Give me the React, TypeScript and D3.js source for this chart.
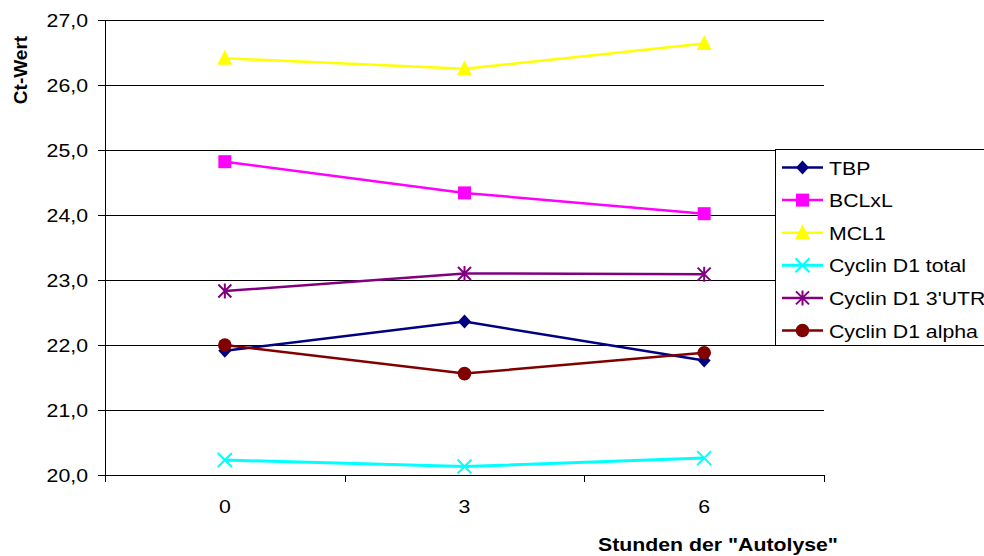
import React from "react";
import * as d3 from "d3";

// Hours of autolysis on the x axis
const hours = ["0", "3", "6"];

// Ct values per gene
const tbp = [21.91, 22.36, 21.76];
const bclxl = [24.82, 24.34, 24.02];
const mcl1 = [26.41, 26.25, 26.64];
const cyclinTotal = [20.23, 20.13, 20.26];
const cyclinUtr = [22.83, 23.1, 23.09];
const cyclinAlpha = [22.0, 21.56, 21.88];

const yTicks = [20, 21, 22, 23, 24, 25, 26, 27];

const seriesNames = [
  "TBP",
  "BCLxL",
  "MCL1",
  "Cyclin D1 total",
  "Cyclin D1 3'UTR",
  "Cyclin D1 alpha",
];
const seriesValues = [tbp, bclxl, mcl1, cyclinTotal, cyclinUtr, cyclinAlpha];
const seriesColors = ["#000080", "#FF00FF", "#FFFF00", "#00FFFF", "#800080", "#800000"];
const seriesMarkers = ["diamond", "square", "triangle", "x", "asterisk", "circle"];

const W = 984;
const H = 556;
const plot = { left: 105, right: 824, top: 20, bottom: 475 };
const FONT = "'Liberation Sans', Arial, Helvetica, sans-serif";
const SX = 1.15; // horizontal text stretch

function markerPath(kind: string): string {
  switch (kind) {
    case "diamond":
      return "M0,-7L6.5,0L0,7L-6.5,0Z";
    case "square":
      return "M-6.5,-6.5H6.5V6.5H-6.5Z";
    case "triangle":
      return "M0,-8.5L7.5,6.5H-7.5Z";
    case "x":
      return "M-7,-7L7,7M-7,7L7,-7";
    case "asterisk":
      return "M-6.5,-6.5L6.5,6.5M-6.5,6.5L6.5,-6.5M0,-7.5L0,7.5";
    default:
      return "";
  }
}

function Marker({ kind, color, x, y }: { kind: string; color: string; x: number; y: number }) {
  if (kind === "circle") {
    return <circle cx={x} cy={y} r={6.8} fill={color} />;
  }
  const stroked = kind === "x" || kind === "asterisk";
  return (
    <path
      d={markerPath(kind)}
      transform={`translate(${x},${y})`}
      fill={stroked ? "none" : color}
      stroke={stroked ? color : "none"}
      strokeWidth={stroked ? 2 : 0}
    />
  );
}

export default function App() {
  const x = d3
    .scalePoint<string>()
    .domain(hours)
    .range([plot.left, plot.right])
    .padding(0.5);
  const band = (plot.right - plot.left) / hours.length;
  const y = d3.scaleLinear().domain([20, 27]).range([plot.bottom, plot.top]);

  const line = d3
    .line<number>()
    .x((_, i) => x(hours[i]) as number)
    .y((d) => y(d));

  const xTickPositions = d3.range(hours.length + 1).map((i) => plot.left + i * band);

  const legend = { x: 775, y: 149, w: 220, h: 196, rowTop: 167.5, rowGap: 32.6 };

  return (
    <svg
      width={W}
      height={H}
      style={{ position: "absolute", left: 0, top: 0, background: "#fff" }}
      fontFamily={FONT}
    >
      <rect x={0} y={0} width={W} height={H} fill="#fff" />

      {/* horizontal gridlines */}
      {yTicks.map((t) => (
        <line
          key={"g" + t}
          x1={plot.left}
          x2={plot.right}
          y1={Math.round(y(t)) + 0.5}
          y2={Math.round(y(t)) + 0.5}
          stroke="#000"
          strokeWidth={1}
        />
      ))}

      {/* y axis */}
      <line x1={plot.left + 0.5} x2={plot.left + 0.5} y1={plot.top} y2={plot.bottom} stroke="#000" />
      {yTicks.map((t) => (
        <g key={"yt" + t}>
          <line
            x1={plot.left - 7}
            x2={plot.left}
            y1={Math.round(y(t)) + 0.5}
            y2={Math.round(y(t)) + 0.5}
            stroke="#000"
          />
          <text
            transform={`translate(${plot.left - 17},${y(t) + 7}) scale(${SX},1)`}
            textAnchor="end"
            fontSize={18.5}
            fill="#000"
          >
            {d3.format(".1f")(t).replace(".", ",")}
          </text>
        </g>
      ))}

      {/* x axis */}
      <line x1={plot.left} x2={plot.right} y1={plot.bottom + 0.5} y2={plot.bottom + 0.5} stroke="#000" />
      {xTickPositions.map((p, i) => (
        <line
          key={"xt" + i}
          x1={Math.round(p) + 0.5}
          x2={Math.round(p) + 0.5}
          y1={plot.bottom}
          y2={plot.bottom + 7}
          stroke="#000"
        />
      ))}
      {hours.map((h) => (
        <text
          key={"xl" + h}
          transform={`translate(${x(h)},${513}) scale(${SX},1)`}
          textAnchor="middle"
          fontSize={18.5}
          fill="#000"
        >
          {h}
        </text>
      ))}

      {/* axis titles */}
      <text
        transform={`translate(718,551) scale(${SX},1)`}
        textAnchor="middle"
        fontSize={18.5}
        fontWeight="bold"
        fill="#000"
      >
        Stunden der "Autolyse"
      </text>
      <text
        transform={`translate(27,70) rotate(-90)`}
        textAnchor="middle"
        fontSize={19}
        fontWeight="bold"
        fill="#000"
      >
        Ct-Wert
      </text>

      {/* series */}
      {seriesValues.map((vals, s) => (
        <g key={"s" + s}>
          <path
            d={line(vals) as string}
            fill="none"
            stroke={seriesColors[s]}
            strokeWidth={s === 3 ? 3 : 2.5}
          />
          {vals.map((v, i) => (
            <Marker
              key={i}
              kind={seriesMarkers[s]}
              color={seriesColors[s]}
              x={x(hours[i]) as number}
              y={y(v)}
            />
          ))}
        </g>
      ))}

      {/* legend */}
      <rect
        x={legend.x + 0.5}
        y={legend.y + 0.5}
        width={legend.w}
        height={legend.h}
        fill="#fff"
        stroke="#000"
      />
      {seriesNames.map((name, s) => {
        const cy = legend.rowTop + s * legend.rowGap;
        return (
          <g key={"l" + s}>
            <line
              x1={782}
              x2={823}
              y1={cy}
              y2={cy}
              stroke={seriesColors[s]}
              strokeWidth={s === 3 ? 3 : 2.5}
            />
            <Marker kind={seriesMarkers[s]} color={seriesColors[s]} x={802.5} y={cy} />
            <text
              transform={`translate(829,${cy + 7}) scale(${SX},1)`}
              fontSize={18.5}
              fill="#000"
            >
              {name}
            </text>
          </g>
        );
      })}
    </svg>
  );
}
